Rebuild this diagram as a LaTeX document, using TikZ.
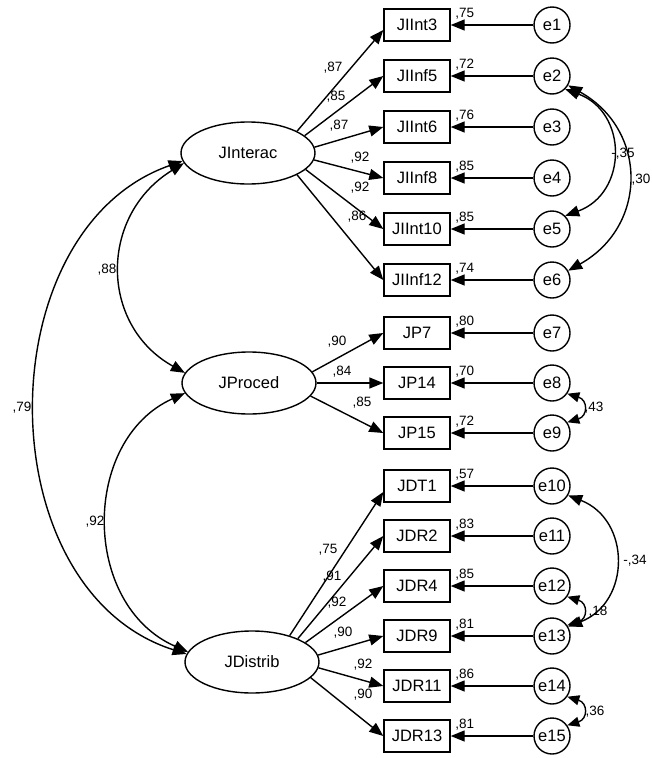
\documentclass[tikz,border=0pt]{standalone}
\usepackage{fontspec}
\setmainfont{Liberation Sans}
\usetikzlibrary{arrows.meta,shapes.geometric}

\begin{document}
\begin{tikzpicture}[x=1pt,y=-1pt,
  obs/.style={draw,rectangle,line width=1.4pt,minimum width=66pt,minimum height=32pt,inner sep=0pt,font=\fontsize{16.5}{18}\selectfont},
  lat/.style={draw,ellipse,line width=1.4pt,minimum width=134pt,minimum height=62pt,inner sep=0pt,font=\fontsize{16.5}{18}\selectfont},
  err/.style={draw,circle,line width=1.4pt,minimum size=36pt,inner sep=0pt,font=\fontsize{16.5}{18}\selectfont},
  num/.style={inner sep=0pt,font=\fontsize{13.5}{15}\selectfont},
  arr/.style={line width=1.4pt,-{Triangle[length=14pt,width=11pt]}},
  cov/.style={line width=1.4pt,{Triangle[length=14pt,width=11pt]}-{Triangle[length=14pt,width=11pt]}},
  scov/.style={line width=1.4pt,{Triangle[length=12pt,width=10pt]}-{Triangle[length=12pt,width=10pt]}}
]
\useasboundingbox (0,0) rectangle (652,758);
\fill[white] (0,0) rectangle (652,758);

% latent factors
\node[lat] (JInterac) at (248,153) {JInterac};
\node[lat] (JProced)  at (249,383) {JProced};
\node[lat] (JDistrib) at (252,662) {JDistrib};

% indicators with their error terms and R-squared values
\foreach \name/\y/\e/\r in {
  JIInt3/25/e1/{,75}, JIInf5/76/e2/{,72}, JIInt6/127/e3/{,76},
  JIInf8/178/e4/{,85}, JIInt10/229/e5/{,85}, JIInf12/280/e6/{,74},
  JP7/333/e7/{,80}, JP14/383/e8/{,70}, JP15/433/e9/{,72},
  JDT1/486/e10/{,57}, JDR2/536/e11/{,83}, JDR4/586/e12/{,85},
  JDR9/636/e13/{,81}, JDR11/686/e14/{,86}, JDR13/736/e15/{,81}}{
  \node[obs] (\name) at (417,\y) {\name};
  \node[err] (\e) at (552,\y) {\e};
  \draw[arr] (\e) -- (\name);
  \node[num] at ([xshift=14pt,yshift=11pt]\name.east) {\r};
}

% factor loadings: JInterac
\draw[arr] (JInterac.24)  -- ([yshift=-5pt]JIInt3.west);
\draw[arr] (JInterac.17)  -- (JIInf5.west);
\draw[arr] (JInterac.5)   -- (JIInt6.west);
\draw[arr] (JInterac.-6)  -- (JIInf8.west);
\draw[arr] (JInterac.-16) -- (JIInt10.west);
\draw[arr] (JInterac.-24) -- (JIInf12.west);
\node[num] at (333,68)  {,87};
\node[num] at (336,97)  {,85};
\node[num] at (339,126) {,87};
\node[num] at (360,158) {,92};
\node[num] at (360,188) {,92};
\node[num] at (357,217) {,86};

% factor loadings: JProced
\draw[arr] (JProced.10)  -- (JP7.west);
\draw[arr] (JProced.0)   -- (JP14.west);
\draw[arr] (JProced.-12) -- (JP15.west);
\node[num] at (337,342) {,90};
\node[num] at (342,372) {,84};
\node[num] at (362,403) {,85};

% factor loadings: JDistrib
\draw[arr] (JDistrib.35)  -- ([yshift=-6pt]JDT1.west);
\draw[arr] (JDistrib.27)  -- (JDR2.west);
\draw[arr] (JDistrib.20)  -- (JDR4.west);
\draw[arr] (JDistrib.6)   -- (JDR9.west);
\draw[arr] (JDistrib.-5)  -- (JDR11.west);
\draw[arr] (JDistrib.-15) -- (JDR13.west);
\node[num] at (328,550) {,75};
\node[num] at (332,577) {,91};
\node[num] at (337,603) {,92};
\node[num] at (343,633) {,90};
\node[num] at (363,665) {,92};
\node[num] at (363,695) {,90};

% factor correlations
\draw[cov] (JInterac.189) .. controls (99,215) and (99,325) .. (JProced.171);
\draw[cov] (JProced.189) .. controls (81,440) and (81,605) .. (JDistrib.171);
\draw[cov] (JInterac.187) .. controls (-14,230) and (-14,590) .. (JDistrib.173);
\node[num] at (107,270) {,88};
\node[num] at (95,522)  {,92};
\node[num] at (22,408)  {,79};

% error covariances
\draw[cov]  (e2.-45)  .. controls (628,112) and (628,193) .. (e5.45);
\draw[cov]  (e2.-30)  .. controls (648,130) and (648,226) .. (e6.30);
\draw[scov] (e8.-35)  .. controls (588,400) and (588,416) .. (e9.35);
\draw[cov]  (e10.-30) .. controls (631,520) and (631,602) .. (e13.30);
\draw[scov] (e12.-35) .. controls (588,603) and (588,619) .. (e13.35);
\draw[scov] (e14.-35) .. controls (588,703) and (588,719) .. (e15.35);
\node[num] at (623,154) {-,35};
\node[num] at (641,180) {,30};
\node[num] at (594,408) {,43};
\node[num] at (635,561) {-,34};
\node[num] at (598,612) {,18};
\node[num] at (595,712) {,36};
\end{tikzpicture}
\end{document}
